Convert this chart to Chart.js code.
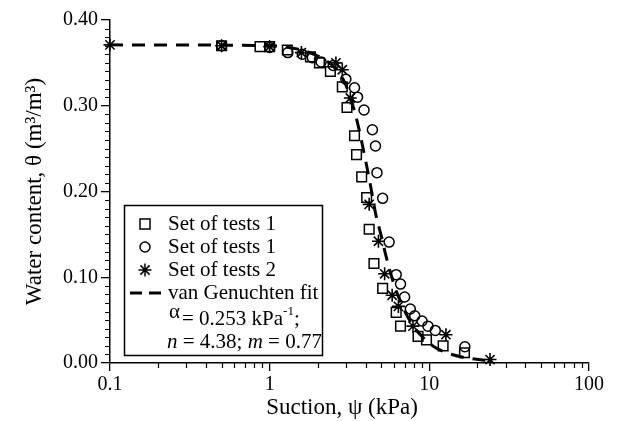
<!DOCTYPE html>
<html>
<head>
<meta charset="utf-8">
<script src="https://cdn.jsdelivr.net/npm/chart.js@4.4.1/dist/chart.umd.min.js"></script>
<style>
  html, body { margin: 0; padding: 0; background: #fff; }
  #wrap { width: 622px; height: 421px; }
</style>
</head>
<body>
<div id="wrap"><canvas id="c" width="622" height="421"></canvas></div>
<script>
const SERIF = "'Liberation Serif', 'Times New Roman', serif";

// tick labels
const xTickValues = [0.1, 1, 10, 100];
const xTickLabels = ['0.1', '1', '10', '100'];
const yTickValues = [0, 0.1, 0.2, 0.3, 0.4];
const yTickLabels = ['0.00', '0.10', '0.20', '0.30', '0.40'];

// Set of tests 1 (squares)
const set1Suction = [0.5, 0.87, 1.0, 1.29, 1.8, 2.05, 2.4, 2.85, 3.05, 3.4, 3.5, 3.77, 4.05, 4.2, 4.5, 5.1, 6.2, 6.6, 8.5, 9.6, 12.2, 16.6];
const set1Theta   = [0.370, 0.369, 0.369, 0.365, 0.357, 0.350, 0.340, 0.322, 0.298, 0.265, 0.243, 0.217, 0.193, 0.156, 0.116, 0.087, 0.059, 0.043, 0.031, 0.027, 0.020, 0.012];

// Set of tests 1 (circles)
const set1bSuction = [0.5, 1.0, 1.3, 1.6, 1.85, 2.1, 2.5, 3.0, 3.4, 3.55, 3.9, 4.4, 4.6, 4.7, 5.1, 5.6, 6.2, 6.6, 7.0, 7.6, 8.1, 9.0, 9.8, 10.9, 16.7];
const set1bTheta   = [0.370, 0.368, 0.362, 0.360, 0.356, 0.351, 0.347, 0.331, 0.321, 0.310, 0.295, 0.272, 0.253, 0.222, 0.192, 0.141, 0.103, 0.092, 0.077, 0.063, 0.055, 0.049, 0.043, 0.038, 0.019];

// Set of tests 2 (asterisks)
const set2Suction = [0.1, 0.5, 1.0, 1.58, 2.6, 2.85, 3.2, 4.2, 4.8, 5.25, 5.85, 6.4, 7.9, 12.7, 24];
const set2Theta   = [0.371, 0.370, 0.369, 0.362, 0.350, 0.342, 0.309, 0.185, 0.142, 0.104, 0.079, 0.066, 0.043, 0.033, 0.004];

// van Genuchten fit
const fitSuction = [0.1, 1.0, 1.5, 2.0, 2.5, 2.9, 3.2, 3.55, 3.8, 4.0, 4.3, 4.6, 5.0, 5.4, 6.0, 6.8, 7.8, 9.0, 10.5, 12, 16, 25];
const fitTheta   = [0.371, 0.370, 0.366, 0.358, 0.346, 0.330, 0.310, 0.280, 0.255, 0.235, 0.205, 0.175, 0.148, 0.122, 0.092, 0.066, 0.045, 0.031, 0.020, 0.014, 0.007, 0.002];

const zip = (xs, ys) => xs.map((x, i) => ({ x: x, y: ys[i] }));

// short minor tick marks, placed through the chart's own scales
const minorTicks = {
  id: 'minorTicks',
  afterDraw(chart) {
    const { ctx, scales: { x, y } } = chart;
    ctx.save();
    ctx.strokeStyle = '#000';
    ctx.lineWidth = 1.2;
    ctx.beginPath();
    [0.1, 1, 10].forEach(d => {
      for (let k = 2; k <= 9; k++) {
        const px = Math.round(x.getPixelForValue(d * k)) + 0.5;
        ctx.moveTo(px, y.bottom);
        ctx.lineTo(px, y.bottom + 5);
      }
    });
    for (let i = 1; i < 40; i++) {
      if (i % 10 === 0) continue;
      const py = Math.round(y.getPixelForValue(i / 100)) + 0.5;
      ctx.moveTo(x.left, py);
      ctx.lineTo(x.left - 5, py);
    }
    ctx.stroke();
    ctx.restore();
  }
};

// x axis title, drawn a bit left of centre as in the original
const xTitle = {
  id: 'xTitle',
  afterDraw(chart) {
    const ctx = chart.ctx;
    ctx.save();
    ctx.fillStyle = '#000';
    ctx.font = '23px ' + SERIF;
    ctx.textAlign = 'center';
    ctx.textBaseline = 'middle';
    ctx.fillText('Suction, \u03c8 (kPa)', 342, 408);
    ctx.restore();
  }
};

// boxed legend with the fit parameters
const boxLegend = {
  id: 'boxLegend',
  afterDraw(chart) {
    const ctx = chart.ctx;
    ctx.save();
    ctx.fillStyle = '#fff';
    ctx.fillRect(125, 206, 197, 149);
    ctx.strokeStyle = '#000';
    ctx.lineWidth = 1.5;
    ctx.strokeRect(124.5, 205.5, 198, 150);

    const sx = 145, tx = 168;
    ctx.lineWidth = 1.5;
    // square
    ctx.strokeRect(sx - 5, 224 - 5, 10, 10);
    // circle
    ctx.beginPath(); ctx.arc(sx, 247, 5, 0, Math.PI * 2); ctx.stroke();
    // asterisk
    ctx.beginPath();
    for (let a = 0; a < 4; a++) {
      const ang = a * Math.PI / 4;
      ctx.moveTo(sx - 6.5 * Math.cos(ang), 270 - 6.5 * Math.sin(ang));
      ctx.lineTo(sx + 6.5 * Math.cos(ang), 270 + 6.5 * Math.sin(ang));
    }
    ctx.stroke();
    // dashed line
    ctx.lineWidth = 3;
    ctx.beginPath();
    ctx.moveTo(130, 293); ctx.lineTo(142, 293);
    ctx.moveTo(149, 293); ctx.lineTo(161, 293);
    ctx.stroke();

    ctx.fillStyle = '#000';
    ctx.textBaseline = 'middle';
    ctx.textAlign = 'left';
    ctx.font = '21px ' + SERIF;
    ctx.fillText('Set of tests 1', tx, 224);
    ctx.fillText('Set of tests 1', tx, 247);
    ctx.fillText('Set of tests 2', tx, 270);
    ctx.fillText('van Genuchten fit', tx, 293);

    // alpha line
    ctx.fillText('\u03b1', 169, 312);
    let cx = 182;
    const s1 = '= 0.253 kPa';
    ctx.fillText(s1, cx, 319);
    cx += ctx.measureText(s1).width;
    ctx.font = '13px ' + SERIF;
    ctx.fillText('-1', cx, 312);
    cx += ctx.measureText('-1').width;
    ctx.font = '21px ' + SERIF;
    ctx.fillText(';', cx, 319);

    // n, m line
    cx = 167;
    const parts = [['n', true], [' = 4.38; ', false], ['m', true], [' = 0.77', false]];
    parts.forEach(([t, it]) => {
      ctx.font = (it ? 'italic ' : '') + '21px ' + SERIF;
      ctx.fillText(t, cx, 342);
      cx += ctx.measureText(t).width;
    });
    ctx.restore();
  }
};

const ctx = document.getElementById('c').getContext('2d');
new Chart(ctx, {
  type: 'scatter',
  data: {
    datasets: [
      {
        label: 'Set of tests 1',
        data: zip(set1Suction, set1Theta),
        pointStyle: 'rect', pointRadius: 6.8, borderWidth: 1.5,
        borderColor: '#000', backgroundColor: 'rgba(0,0,0,0)', order: 1
      },
      {
        label: 'Set of tests 1',
        data: zip(set1bSuction, set1bTheta),
        pointStyle: 'circle', pointRadius: 5, borderWidth: 1.5,
        borderColor: '#000', backgroundColor: 'rgba(0,0,0,0)', order: 2
      },
      {
        label: 'Set of tests 2',
        data: zip(set2Suction, set2Theta),
        pointStyle: 'star', pointRadius: 6.5, borderWidth: 1.6,
        borderColor: '#000', backgroundColor: 'rgba(0,0,0,0)', order: 0
      },
      {
        label: 'van Genuchten fit',
        data: zip(fitSuction, fitTheta),
        showLine: true, pointRadius: 0, borderWidth: 3,
        borderColor: '#000', borderDash: [13, 9],
        cubicInterpolationMode: 'monotone', order: 3
      }
    ]
  },
  options: {
    responsive: false,
    animation: false,
    clip: false,
    layout: { padding: { top: 20, right: 33, left: 0, bottom: 0 } },
    plugins: {
      legend: { display: false },
      tooltip: { enabled: false }
    },
    scales: {
      x: {
        type: 'logarithmic',
        min: 0.1, max: 100,
        afterBuildTicks: s => { s.ticks = xTickValues.map(v => ({ value: v })); },
        afterFit: s => { s.height = 58; },
        ticks: {
          color: '#000', padding: 2, maxRotation: 0, autoSkip: false,
          font: { family: SERIF, size: 20 },
          callback: v => xTickLabels[xTickValues.indexOf(v)]
        },
        grid: { display: true, drawOnChartArea: false, drawTicks: true, tickLength: 8, color: '#000', lineWidth: 1.3 },
        border: { display: true, color: '#000', width: 1.5 },
        title: { display: false }
      },
      y: {
        min: 0, max: 0.4,
        afterBuildTicks: s => { s.ticks = yTickValues.map(v => ({ value: v })); },
        afterFit: s => { s.width = 110; },
        ticks: {
          color: '#000', padding: 3,
          font: { family: SERIF, size: 20 },
          callback: (v, i) => yTickLabels[i]
        },
        grid: { display: true, drawOnChartArea: false, drawTicks: true, tickLength: 9, color: '#000', lineWidth: 1.3 },
        border: { display: true, color: '#000', width: 1.5 },
        title: {
          display: true, text: 'Water content, \u03b8 (m\u00b3/m\u00b3)', color: '#000',
          font: { family: SERIF, size: 23 }, padding: { top: 21, bottom: 0 }
        }
      }
    }
  },
  plugins: [minorTicks, boxLegend, xTitle]
});
</script>
</body>
</html>
